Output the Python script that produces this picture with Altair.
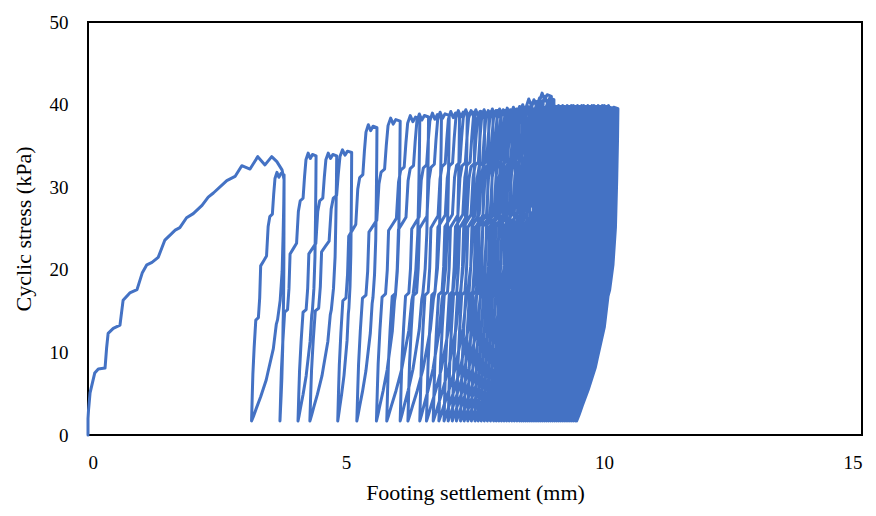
import altair as alt
import pandas as pd

# ---- values ----
# initial monotonic loading curve (settlement mm, stress kPa)
init_x = [0.0, 0.0, 0.01, 0.04, 0.13, 0.20, 0.33, 0.36, 0.39, 0.49, 0.62, 0.68, 0.81, 0.95,
          1.05, 1.14, 1.24, 1.36, 1.49, 1.69, 1.78, 1.91, 2.04, 2.21, 2.33, 2.43, 2.69,
          2.85, 2.98, 3.14, 3.29, 3.43, 3.56, 3.66, 3.76, 3.80]
init_y = [0.0, 2.0, 3.0, 5.1, 7.5, 8.0, 8.1, 10.5, 12.3, 12.9, 13.3, 16.3, 17.2, 17.6,
          19.6, 20.6, 20.9, 21.5, 23.6, 24.8, 25.1, 26.3, 26.8, 27.8, 28.8, 29.3, 30.8,
          31.3, 32.6, 32.2, 33.7, 32.7, 33.7, 33.1, 32.1, 30.9]

# cycles: settlement where reloading starts, settlement at end of peak, peak stress
cyc_start = [3.17, 3.72, 4.07, 4.30, 4.84, 5.21, 5.59, 5.79, 6.05, 6.20, 6.43, 6.56, 6.69,
             6.80, 6.90, 6.98, 7.06, 7.14, 7.22, 7.29, 7.36, 7.43, 7.50,
             7.56, 7.62, 7.68, 7.74, 7.80, 7.86, 7.91, 7.96, 8.01, 8.06,
             8.11, 8.16, 8.21, 8.26, 8.31, 8.36, 8.40, 8.44, 8.48, 8.52,
             8.56, 8.60, 8.64, 8.68, 8.72, 8.76, 8.80, 8.84, 8.88, 8.92,
             8.96, 9.00, 9.04, 9.08, 9.12, 9.16, 9.20, 9.24, 9.28, 9.32,
             9.36, 9.40, 9.44]
cyc_peak_x = [3.80, 4.42, 4.82, 5.11, 5.60, 6.05, 6.43, 6.60, 6.85, 7.00, 7.20, 7.35, 7.50,
              7.60, 7.69, 7.77, 7.85, 7.93, 8.01, 8.08, 8.15, 8.22, 8.30,
              8.36, 8.42, 8.48, 8.54, 8.60, 8.67, 8.72, 8.77, 8.82, 8.87,
              8.93, 8.98, 9.03, 9.08, 9.13, 9.18, 9.22, 9.26, 9.30, 9.34,
              9.38, 9.42, 9.47, 9.51, 9.55, 9.59, 9.63, 9.67, 9.71, 9.75,
              9.79, 9.83, 9.87, 9.91, 9.95, 9.99, 10.03, 10.07, 10.11, 10.15,
              10.19, 10.23, 10.27]
cyc_peak_y = [31.5, 33.8, 33.8, 34.2, 37.2, 38.0, 38.3, 38.5, 38.6, 38.7, 38.8, 38.9, 39.0,
              38.9, 39.0, 38.8, 39.0, 38.9, 39.1, 38.9, 39.1, 39.0, 39.2,
              39.0, 39.3, 39.1, 39.4, 39.6, 39.3, 40.3, 39.5, 40.2, 39.6,
              40.4, 41.0, 40.6, 39.7, 39.5, 39.4, 39.5, 39.4, 39.5, 39.4,
              39.5, 39.4, 39.5, 39.4, 39.5, 39.5, 39.4, 39.5, 39.4, 39.5,
              39.5, 39.4, 39.5, 39.4, 39.5, 39.5, 39.4, 39.5, 39.4, 39.5,
              39.5, 39.4, 39.5]
final_end_x = 9.47
min_stress = 1.7

# shape of a reloading branch incl. the peak plateau
# (fraction of settlement span, fraction of stress span)
load_fx = [0.0, 0.02, 0.04, 0.08, 0.13, 0.21, 0.25, 0.28, 0.37, 0.46, 0.51, 0.56, 0.64,
           0.68, 0.72, 0.78, 0.84, 0.90, 1.0]
load_fy = [0.0, 0.10, 0.19, 0.30, 0.41, 0.42, 0.50, 0.63, 0.65, 0.67, 0.79, 0.83, 0.84,
           0.92, 0.985, 1.01, 0.99, 1.005, 1.0]
# shape of an unloading branch (fraction of rebound, fraction of stress span)
unload_fx = [0.0, 0.01, 0.03, 0.06, 0.12, 0.20, 0.24, 0.33, 0.50, 0.55, 0.72, 0.86, 0.94, 1.0]
unload_fy = [1.0, 0.90, 0.77, 0.62, 0.50, 0.42, 0.40, 0.30, 0.20, 0.17, 0.10, 0.05, 0.02, 0.0]

# ---- build the ordered path ----
xs, ys = list(init_x), list(init_y)

def unload(x_top, y_top, x_end):
    for gx, gy in zip(unload_fx, unload_fy):
        xs.append(x_top - gx * (x_top - x_end))
        ys.append(min_stress + gy * (y_top - min_stress))

unload(init_x[-1], init_y[-1], cyc_start[0])
n = len(cyc_start)
for k in range(n):
    a, b, p = cyc_start[k], cyc_peak_x[k], cyc_peak_y[k]
    for fx, fy in zip(load_fx, load_fy):
        xs.append(a + fx * (b - a))
        ys.append(min_stress + fy * (p - min_stress))
    nxt = cyc_start[k + 1] if k + 1 < n else final_end_x
    unload(b, p, nxt)

df = pd.DataFrame({"x": xs, "y": ys, "i": range(len(xs))})

serif = "Liberation Serif"
chart = (
    alt.Chart(df)
    .mark_line(color="#4472C4", strokeWidth=3, strokeJoin="round", strokeCap="round")
    .encode(
        x=alt.X("x:Q", scale=alt.Scale(domain=[0, 15], nice=False),
                axis=alt.Axis(title="Footing settlement (mm)", values=[0, 5, 10, 15],
                              grid=False, ticks=False, domain=False, labelPadding=18,
                              titlePadding=10)),
        y=alt.Y("y:Q", scale=alt.Scale(domain=[0, 50], nice=False),
                axis=alt.Axis(title="Cyclic stress (kPa)", values=[0, 10, 20, 30, 40, 50],
                              grid=False, ticks=False, domain=False, labelPadding=20,
                              titlePadding=14)),
        order="i:Q",
    )
    .properties(width=774, height=413, background="white",
                autosize=alt.AutoSizeParams(type="none"),
                padding={"left": 88, "top": 22, "right": 14, "bottom": 81})
    .configure_view(stroke="#000000", strokeWidth=2)
    .configure_axis(labelFont=serif, titleFont=serif, labelFontSize=19, titleFontSize=22,
                    labelColor="#000000", titleColor="#000000", titleFontWeight="normal")
)

chart.save("out.html", embed_options={"renderer": "svg", "actions": False})
